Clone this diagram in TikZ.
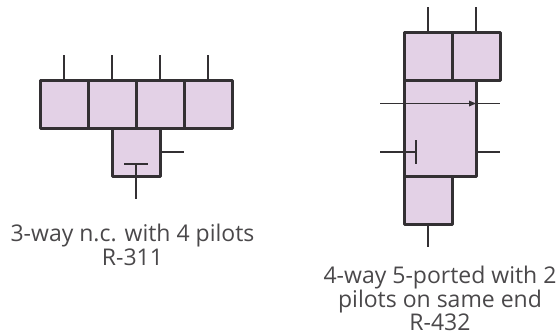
\documentclass[tikz,border=0pt]{standalone}
\usepackage{fontspec}
\setmainfont{Open Sans}
\definecolor{pilotfill}{HTML}{E3D1E6}
\definecolor{pilotline}{HTML}{333033}
\definecolor{pilottext}{HTML}{4A484A}
\tikzset{
  cell/.style={draw=pilotline, fill=pilotfill, line width=3pt, line join=round, inner sep=0pt, outer sep=0pt, minimum width=48pt, minimum height=48pt},
  port/.style={draw=pilotline, line width=1.2pt},
  caption/.style={align=center, text=pilottext, font=\fontsize{23}{23.5}\selectfont, inner sep=0pt}
}
\begin{document}
\begin{tikzpicture}[x=1pt,y=-1pt]
        \useasboundingbox (0,0) rectangle (558,335);

        % Valvola R-311
        \foreach \i/\x in {1/64,2/112,3/160,4/208} {
            \coordinate (tip\i) at (\x,55);
            \node[cell] (top\i) at (\x,104) {};
            \draw[port] (tip\i) -- (top\i.north);
        }
        \node[cell] (low) at (136,152) {};
        \coordinate (lowout) at (184,152);
        \coordinate (lowtee) at (136,164);
        \coordinate (lowteeL) at (124,164);
        \coordinate (lowteeR) at (148,164);
        \coordinate (lowend) at (136,199);
        \draw[port] (low.east) -- (lowout);
        \draw[port] (lowteeL) -- (lowteeR);
        \draw[port] (lowtee) -- (lowend);
        \node[caption] (capA) at (132.5,245) {3-way n.c. with 4 pilots\\R-311};

        % Valvola R-432
        \coordinate (tipA) at (428,7);
        \coordinate (tipB) at (476,7);
        \node[cell] (headA) at (428,56) {};
        \node[cell] (headB) at (476,56) {};
        \draw[port] (tipA) -- (headA.north);
        \draw[port] (tipB) -- (headB.north);
        \node[cell, minimum width=72pt, minimum height=96pt] (body) at (440,128) {};
        \node[cell] (foot) at (428,200) {};
        \coordinate (footend) at (428,247);
        \draw[port] (foot.south) -- (footend);

        % Freccia e porte laterali
        \coordinate (flowin) at (380,103.5);
        \coordinate (flowtip) at (476,103.5);
        \coordinate (flowout) at (500,103.5);
        \draw[port] (flowin) -- (flowout);
        \fill[pilotline] (flowtip) -- ++(-7,-3) -- ++(0,6) -- cycle;
        \coordinate (sideL) at (380,152);
        \coordinate (sideT) at (416,152);
        \coordinate (sideTa) at (416,140);
        \coordinate (sideTb) at (416,164);
        \coordinate (sideS) at (476,152);
        \coordinate (sideR) at (500,152);
        \draw[port] (sideL) -- (sideT);
        \draw[port] (sideTa) -- (sideTb);
        \draw[port] (sideS) -- (sideR);
        \node[caption] (capB) at (440,298.5) {4-way 5-ported with 2\\pilots on same end\\R-432};
\end{tikzpicture}
\end{document}
